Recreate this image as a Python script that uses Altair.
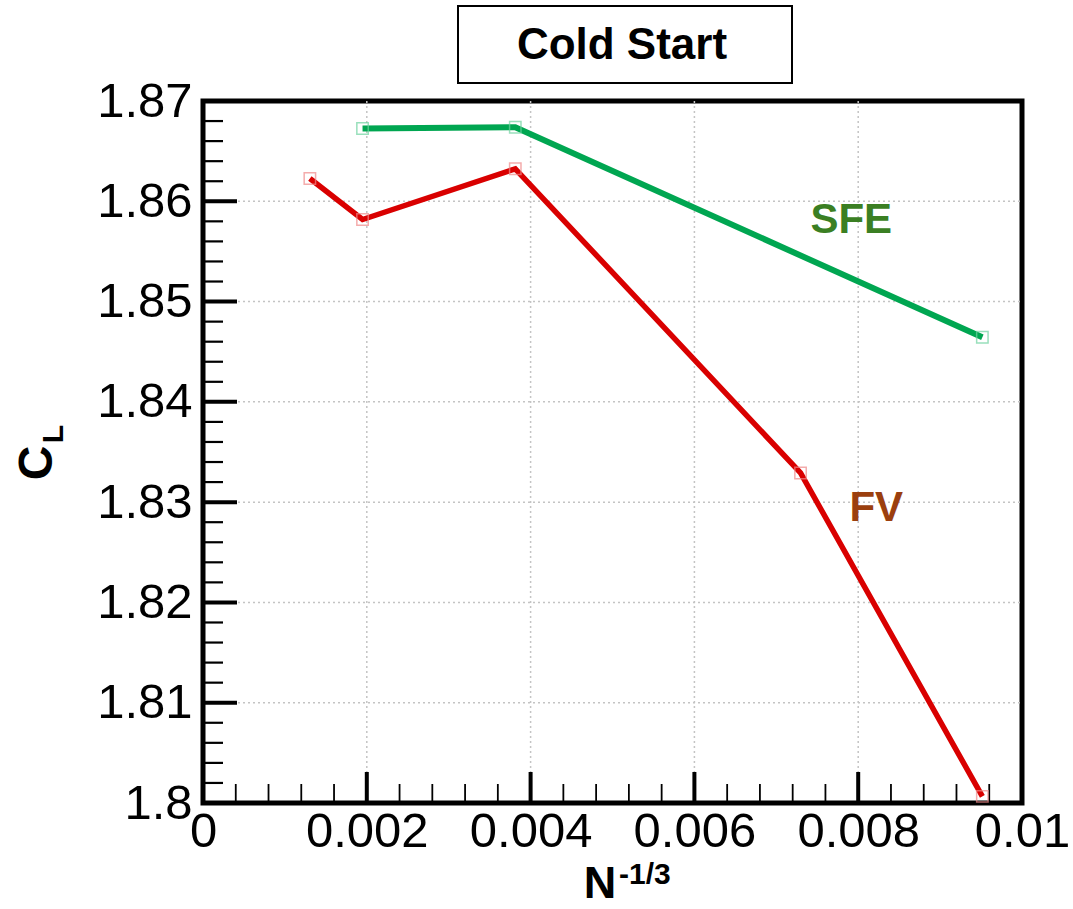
import altair as alt
import pandas as pd

# ---- data ----
sfe_x = [0.001948, 0.003813, 0.009516]
sfe_y = [1.86726, 1.86739, 1.84644]
fv_x = [0.001305, 0.001948, 0.003813, 0.007296, 0.009516]
fv_y = [1.86227, 1.85818, 1.86324, 1.83291, 1.80066]

x_labels = [0, 0.002, 0.004, 0.006, 0.008, 0.01]
y_labels = [1.80, 1.81, 1.82, 1.83, 1.84, 1.85, 1.86, 1.87]
x_grid = [0.002, 0.004, 0.006, 0.008]
y_grid = [1.81, 1.82, 1.83, 1.84, 1.85, 1.86]
x_major = [0.002, 0.004, 0.006, 0.008]
x_minor = [0.0004, 0.0008, 0.0012, 0.0016, 0.0024, 0.0028, 0.0032, 0.0036,
           0.0044, 0.0048, 0.0052, 0.0056, 0.0064, 0.0068, 0.0072, 0.0076,
           0.0084, 0.0088, 0.0092, 0.0096]
y_major = [1.81, 1.82, 1.83, 1.84, 1.85, 1.86]
y_minor = [1.802, 1.804, 1.806, 1.808, 1.812, 1.814, 1.816, 1.818,
           1.822, 1.824, 1.826, 1.828, 1.832, 1.834, 1.836, 1.838,
           1.842, 1.844, 1.846, 1.848, 1.852, 1.854, 1.856, 1.858,
           1.862, 1.864, 1.866, 1.868]
label_text = ["SFE", "FV"]
label_x = [0.007915, 0.00822]
label_y = [1.85688, 1.82813]
title_text = ["Cold Start"]

FONT = "Liberation Sans"
W, H = 819, 702

xs = alt.Scale(domain=[0, 0.01], nice=False, zero=False)
ys = alt.Scale(domain=[1.80, 1.87], nice=False, zero=False)

sfe_df = pd.DataFrame({"x": sfe_x, "y": sfe_y})
fv_df = pd.DataFrame({"x": fv_x, "y": fv_y})

# axes with labels only
base = alt.Chart(pd.DataFrame({"x": [0.0], "y": [1.8]})).mark_point(opacity=0).encode(
    x=alt.X("x:Q", scale=xs, title=None,
            axis=alt.Axis(values=x_labels, format="~g", domain=False, ticks=False,
                          labelFontSize=49, labelFont=FONT, labelColor="black",
                          labelPadding=4, grid=False, labelFlush=False)),
    y=alt.Y("y:Q", scale=ys, title=None,
            axis=alt.Axis(values=y_labels, format="~g", domain=False, ticks=False,
                          labelFontSize=49, labelFont=FONT, labelColor="black",
                          labelPadding=11, grid=False, labelFlush=False)),
)

xgrid = alt.Chart(pd.DataFrame({"x": x_grid})).mark_rule(
    color="#c4c4c4", strokeDash=[2, 3], strokeWidth=1.5).encode(
    x=alt.X("x:Q", scale=xs), y=alt.value(0), y2=alt.value(H))
ygrid = alt.Chart(pd.DataFrame({"y": y_grid})).mark_rule(
    color="#c4c4c4", strokeDash=[2, 3], strokeWidth=1.5).encode(
    y=alt.Y("y:Q", scale=ys), x=alt.value(0), x2=alt.value(W))

xmaj = alt.Chart(pd.DataFrame({"x": x_major})).mark_rule(color="black", strokeWidth=4).encode(
    x=alt.X("x:Q", scale=xs), y=alt.value(H), y2=alt.value(H - 31))
xmin = alt.Chart(pd.DataFrame({"x": x_minor})).mark_rule(color="black", strokeWidth=1.8).encode(
    x=alt.X("x:Q", scale=xs), y=alt.value(H), y2=alt.value(H - 19))
ymaj = alt.Chart(pd.DataFrame({"y": y_major})).mark_rule(color="black", strokeWidth=4).encode(
    y=alt.Y("y:Q", scale=ys), x=alt.value(0), x2=alt.value(34))
ymin = alt.Chart(pd.DataFrame({"y": y_minor})).mark_rule(color="black", strokeWidth=2.2).encode(
    y=alt.Y("y:Q", scale=ys), x=alt.value(0), x2=alt.value(20))

sfe_line = alt.Chart(sfe_df).mark_line(color="#00a651", strokeWidth=6).encode(
    x=alt.X("x:Q", scale=xs), y=alt.Y("y:Q", scale=ys))
fv_line = alt.Chart(fv_df).mark_line(color="#d90000", strokeWidth=5.5).encode(
    x=alt.X("x:Q", scale=xs), y=alt.Y("y:Q", scale=ys))
sfe_pts = alt.Chart(sfe_df).mark_point(shape="square", filled=False, size=130,
                                       color="#6fd3a0", strokeWidth=1.5).encode(
    x=alt.X("x:Q", scale=xs), y=alt.Y("y:Q", scale=ys))
fv_pts = alt.Chart(fv_df).mark_point(shape="square", filled=False, size=130,
                                     color="#f08a8a", strokeWidth=1.5).encode(
    x=alt.X("x:Q", scale=xs), y=alt.Y("y:Q", scale=ys))

lab_df = pd.DataFrame({"t": label_text, "x": label_x, "y": label_y})
labels = alt.Chart(lab_df).mark_text(font=FONT, fontWeight="bold", fontSize=42,
                                     align="center", baseline="alphabetic").encode(
    x=alt.X("x:Q", scale=xs), y=alt.Y("y:Q", scale=ys), text="t:N",
    color=alt.Color("t:N", scale=alt.Scale(domain=label_text, range=["#3b7f23", "#9b3f0e"]),
                    legend=None))

tdf = pd.DataFrame({"t": title_text})
title_box = alt.Chart(tdf).mark_rect(fill="white", stroke="black", strokeWidth=2).encode(
    x=alt.value(255), x2=alt.value(589), y=alt.value(-95), y2=alt.value(-18))
title_txt = alt.Chart(tdf).mark_text(font=FONT, fontWeight="bold", fontSize=44,
                                     align="center", baseline="alphabetic", color="black").encode(
    x=alt.value(419), y=alt.value(-42), text="t:N")

ytitle_c = alt.Chart(pd.DataFrame({"t": ["C"]})).mark_text(
    font=FONT, fontWeight="bold", fontSize=48, angle=270, align="center",
    baseline="alphabetic", color="black").encode(x=alt.value(-151), y=alt.value(362), text="t:N")
ytitle_l = alt.Chart(pd.DataFrame({"t": ["L"]})).mark_text(
    font=FONT, fontWeight="bold", fontSize=30, angle=270, align="center",
    baseline="alphabetic", color="black").encode(x=alt.value(-140), y=alt.value(333), text="t:N")
xtitle_n = alt.Chart(pd.DataFrame({"t": ["N"]})).mark_text(
    font=FONT, fontWeight="bold", fontSize=45, align="center",
    baseline="alphabetic", color="black").encode(x=alt.value(397), y=alt.value(797), text="t:N")
xtitle_s = alt.Chart(pd.DataFrame({"t": ["-1/3"]})).mark_text(
    font=FONT, fontWeight="bold", fontSize=30, align="left",
    baseline="alphabetic", color="black").encode(x=alt.value(416), y=alt.value(783), text="t:N")

chart = alt.layer(
    base, xgrid, ygrid, xmin, xmaj, ymin, ymaj,
    sfe_line, fv_line, sfe_pts, fv_pts, labels,
    title_box, title_txt, ytitle_c, ytitle_l, xtitle_n, xtitle_s,
).properties(
    width=W, height=H,
    autosize=alt.AutoSizeParams(type="none"),
    padding={"left": 203, "top": 101, "right": 51, "bottom": 106},
).configure_view(
    stroke="black", strokeWidth=5
)

chart.save("out.html", embed_options={"renderer": "svg", "actions": False})
